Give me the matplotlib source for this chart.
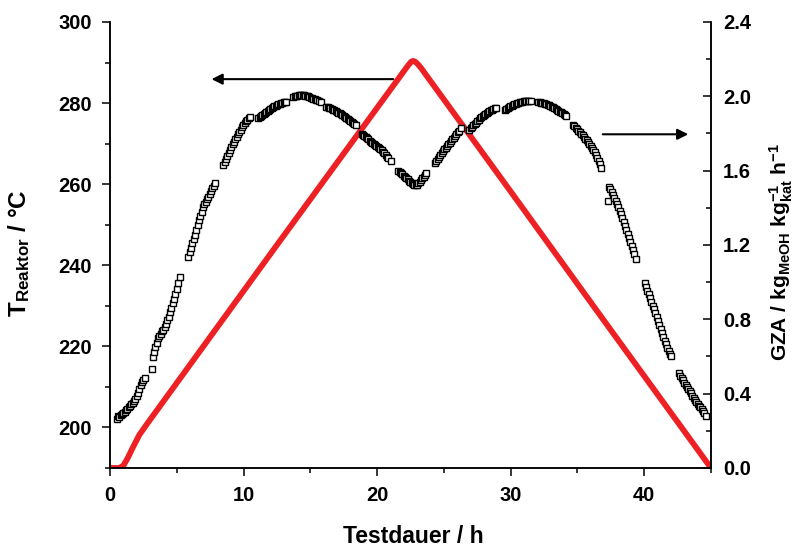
import matplotlib
matplotlib.use("Agg")
import matplotlib.pyplot as plt
from matplotlib.ticker import MultipleLocator, FormatStrFormatter

# Reactor temperature ramp (time in h, temperature in °C)
t_temp = [0.0, 0.7, 1.0, 1.3, 1.7, 2.2, 2.8, 12.5, 22.3, 22.55, 22.7, 22.85,
          23.05, 23.3, 30.0, 37.0, 45.0]
T_reaktor = [190.0, 190.0, 190.6, 192.3, 195.0, 198.2, 201.0, 245.0, 289.2,
             290.2, 290.4, 290.2, 289.6, 288.6, 258.2, 226.3, 190.0]

# Space-time yield (GZA), measured in separate runs
t_run01 = [0.52, 0.60, 0.70, 0.80, 0.90, 1.00, 1.10, 1.20, 1.30, 1.40, 1.50,
           1.60, 1.70, 1.80, 1.90, 2.00, 2.10, 2.20, 2.30, 2.40, 2.50, 2.62]
gza_run01 = [0.262, 0.280, 0.276, 0.285, 0.290, 0.298, 0.302, 0.312, 0.318,
             0.326, 0.335, 0.345, 0.352, 0.362, 0.372, 0.390, 0.405, 0.425,
             0.445, 0.462, 0.476, 0.486]

t_run02 = [3.14, 3.22, 3.30, 3.40, 3.50, 3.60, 3.70, 3.80, 3.90, 4.00, 4.10,
           4.20, 4.30, 4.40, 4.50, 4.60, 4.70, 4.80, 4.90, 5.00, 5.10, 5.21]
gza_run02 = [0.534, 0.599, 0.622, 0.650, 0.672, 0.698, 0.710, 0.722, 0.735,
             0.745, 0.760, 0.776, 0.795, 0.815, 0.838, 0.862, 0.888, 0.910,
             0.936, 0.962, 0.995, 1.026]

t_run03 = [5.86, 5.96, 6.06, 6.16, 6.26, 6.36, 6.46, 6.56, 6.66, 6.76, 6.86,
           6.96, 7.06, 7.16, 7.26, 7.36, 7.46, 7.56, 7.66, 7.76, 7.86]
gza_run03 = [1.137, 1.160, 1.184, 1.208, 1.231, 1.256, 1.283, 1.308, 1.332,
             1.355, 1.378, 1.402, 1.418, 1.432, 1.446, 1.460, 1.476, 1.490,
             1.504, 1.518, 1.532]

t_run04 = [8.48, 8.58, 8.68, 8.78, 8.88, 8.98, 9.08, 9.18, 9.28, 9.38, 9.48,
           9.58, 9.68, 9.78, 9.88, 9.98, 10.08, 10.18, 10.28, 10.38, 10.48]
gza_run04 = [1.631, 1.648, 1.664, 1.680, 1.696, 1.711, 1.726, 1.741, 1.756,
             1.770, 1.783, 1.796, 1.808, 1.820, 1.833, 1.846, 1.856, 1.865,
             1.873, 1.881, 1.888]

t_run05 = [11.10, 11.20, 11.30, 11.40, 11.50, 11.60, 11.70, 11.80, 11.90,
           12.00, 12.10, 12.20, 12.30, 12.40, 12.50, 12.60, 12.70, 12.80,
           12.90, 13.00, 13.10, 13.17]
gza_run05 = [1.882, 1.888, 1.894, 1.900, 1.906, 1.912, 1.917, 1.922, 1.927,
             1.932, 1.937, 1.942, 1.946, 1.950, 1.954, 1.957, 1.960, 1.963,
             1.966, 1.968, 1.970, 1.971]

t_run06 = [13.72, 13.82, 13.92, 14.02, 14.12, 14.22, 14.32, 14.42, 14.52,
           14.62, 14.72, 14.82, 14.92, 15.02, 15.12, 15.22, 15.32, 15.42,
           15.52, 15.62, 15.77]
gza_run06 = [1.995, 1.999, 2.002, 2.004, 2.006, 2.007, 2.007, 2.006, 2.005,
             2.003, 2.001, 1.999, 1.996, 1.993, 1.990, 1.987, 1.984, 1.981,
             1.978, 1.975, 1.971]

t_run07 = [16.2, 16.3, 16.4, 16.5, 16.6, 16.7, 16.8, 16.9, 17.0, 17.1, 17.2,
           17.3, 17.4, 17.5, 17.6, 17.7, 17.8, 17.9, 18.0, 18.1, 18.2, 18.3,
           18.4]
gza_run07 = [1.945, 1.942, 1.939, 1.935, 1.931, 1.928, 1.924, 1.920, 1.916,
             1.912, 1.908, 1.903, 1.898, 1.893, 1.888, 1.883, 1.878, 1.873,
             1.868, 1.862, 1.857, 1.851, 1.846]

t_run08 = [18.84, 18.94, 19.04, 19.14, 19.24, 19.34, 19.44, 19.54, 19.64,
           19.74, 19.84, 19.94, 20.04, 20.14, 20.24, 20.34, 20.44, 20.54,
           20.64, 20.74, 20.84, 21.01]
gza_run08 = [1.796, 1.791, 1.786, 1.780, 1.774, 1.768, 1.762, 1.756, 1.750,
             1.745, 1.739, 1.733, 1.727, 1.721, 1.715, 1.709, 1.703, 1.695,
             1.686, 1.676, 1.666, 1.652]

t_run09 = [21.58, 21.68, 21.78, 21.88, 21.98, 22.08, 22.18, 22.28, 22.38,
           22.48, 22.58, 22.68, 22.78, 22.88, 22.98, 23.08, 23.18, 23.28,
           23.38, 23.48, 23.58, 23.65]
gza_run09 = [1.598, 1.592, 1.586, 1.580, 1.573, 1.566, 1.560, 1.553, 1.546,
             1.539, 1.532, 1.527, 1.524, 1.523, 1.525, 1.531, 1.539, 1.548,
             1.558, 1.568, 1.578, 1.586]

t_run10 = [24.33, 24.43, 24.53, 24.63, 24.73, 24.83, 24.93, 25.03, 25.13,
           25.23, 25.33, 25.43, 25.53, 25.63, 25.73, 25.83, 25.93, 26.03,
           26.13, 26.25]
gza_run10 = [1.640, 1.652, 1.663, 1.674, 1.684, 1.694, 1.704, 1.714, 1.724,
             1.733, 1.742, 1.751, 1.760, 1.769, 1.778, 1.787, 1.796, 1.806,
             1.816, 1.828]

t_run11 = [26.9, 27.0, 27.1, 27.2, 27.3, 27.4, 27.5, 27.6, 27.7, 27.8, 27.9,
           28.0, 28.1, 28.2, 28.3, 28.4, 28.5, 28.6, 28.7, 28.8, 28.9]
gza_run11 = [1.819, 1.827, 1.835, 1.843, 1.851, 1.859, 1.867, 1.875, 1.882,
             1.889, 1.895, 1.901, 1.906, 1.911, 1.916, 1.921, 1.925, 1.929,
             1.933, 1.936, 1.939]

t_run12 = [29.57, 29.67, 29.77, 29.87, 29.97, 30.07, 30.17, 30.27, 30.37,
           30.47, 30.57, 30.67, 30.77, 30.87, 30.97, 31.07, 31.17, 31.27,
           31.37, 31.51]
gza_run12 = [1.927, 1.932, 1.937, 1.942, 1.946, 1.950, 1.954, 1.957, 1.960,
             1.963, 1.966, 1.968, 1.970, 1.971, 1.973, 1.974, 1.975, 1.976,
             1.976, 1.975]

t_run13 = [32.06, 32.16, 32.26, 32.36, 32.46, 32.56, 32.66, 32.76, 32.86,
           32.96, 33.06, 33.16, 33.26, 33.36, 33.46, 33.56, 33.66, 33.76,
           33.86, 33.96, 34.06, 34.18]
gza_run13 = [1.968, 1.967, 1.966, 1.964, 1.962, 1.960, 1.957, 1.954, 1.951,
             1.948, 1.945, 1.941, 1.937, 1.933, 1.928, 1.923, 1.918, 1.913,
             1.908, 1.903, 1.898, 1.893]

t_run14 = [34.68, 34.78, 34.88, 34.98, 35.08, 35.18, 35.28, 35.38, 35.48,
           35.58, 35.68, 35.78, 35.88, 35.98, 36.08, 36.18, 36.28, 36.38,
           36.48, 36.58, 36.68, 36.80]
gza_run14 = [1.846, 1.839, 1.832, 1.824, 1.816, 1.808, 1.799, 1.790, 1.781,
             1.772, 1.763, 1.754, 1.744, 1.734, 1.723, 1.712, 1.698, 1.684,
             1.669, 1.653, 1.635, 1.613]

t_run15 = [37.37, 37.30, 37.47, 37.57, 37.67, 37.77, 37.87, 37.97, 38.07,
           38.17, 38.27, 38.37, 38.47, 38.57, 38.67, 38.77, 38.87, 38.97,
           39.07, 39.17, 39.27, 39.42]
gza_run15 = [1.514, 1.439, 1.500, 1.485, 1.469, 1.452, 1.436, 1.419, 1.402,
             1.384, 1.365, 1.346, 1.326, 1.304, 1.282, 1.261, 1.239, 1.216,
             1.194, 1.172, 1.150, 1.123]

t_run16 = [40.04, 40.14, 40.24, 40.34, 40.44, 40.54, 40.64, 40.74, 40.84,
           40.94, 41.04, 41.14, 41.24, 41.34, 41.44, 41.54, 41.64, 41.74,
           41.84, 41.94, 42.04]
gza_run16 = [0.994, 0.975, 0.955, 0.935, 0.914, 0.893, 0.873, 0.853, 0.833,
             0.812, 0.792, 0.771, 0.750, 0.728, 0.706, 0.686, 0.666, 0.647,
             0.629, 0.614, 0.603]

t_run17 = [42.60, 42.70, 42.80, 42.90, 43.00, 43.10, 43.20, 43.30, 43.40,
           43.50, 43.60, 43.70, 43.80, 43.90, 44.00, 44.10, 44.20, 44.30,
           44.40, 44.50, 44.66]
gza_run17 = [0.510, 0.497, 0.484, 0.471, 0.458, 0.445, 0.434, 0.423, 0.412,
             0.401, 0.390, 0.379, 0.368, 0.357, 0.347, 0.336, 0.326, 0.316,
             0.305, 0.295, 0.280]

runs = [
    (t_run01, gza_run01), (t_run02, gza_run02), (t_run03, gza_run03),
    (t_run04, gza_run04), (t_run05, gza_run05), (t_run06, gza_run06),
    (t_run07, gza_run07), (t_run08, gza_run08), (t_run09, gza_run09),
    (t_run10, gza_run10), (t_run11, gza_run11), (t_run12, gza_run12),
    (t_run13, gza_run13), (t_run14, gza_run14), (t_run15, gza_run15),
    (t_run16, gza_run16), (t_run17, gza_run17),
]

x_ticks = [0, 10, 20, 30, 40]
T_ticks = [200, 220, 240, 260, 280, 300]
gza_ticks = [0.0, 0.4, 0.8, 1.2, 1.6, 2.0, 2.4]

plt.rcParams["font.family"] = ["Liberation Sans", "DejaVu Sans"]
plt.rcParams["font.weight"] = "bold"
plt.rcParams["mathtext.fontset"] = "custom"
plt.rcParams["mathtext.rm"] = "Liberation Sans:bold"
plt.rcParams["mathtext.it"] = "Liberation Sans:bold"
plt.rcParams["mathtext.bf"] = "Liberation Sans:bold"

fig = plt.figure(figsize=(7.95, 5.48), dpi=100)
ax = fig.add_axes([0.1384, 0.146, 0.7559, 0.8139])
ax2 = ax.twinx()

red = "#ED2024"
ax.plot(t_temp, T_reaktor, color=red, lw=4.2, solid_joinstyle="round",
        solid_capstyle="butt", zorder=2)

for t_vals, g_vals in runs:
    ax2.plot(t_vals, g_vals, linestyle="none", marker="s", markersize=4.0,
             markerfacecolor="white", markeredgecolor="black",
             markeredgewidth=1.0, clip_on=False)

ax.set_xlim(0, 45)
ax.set_ylim(190, 300)
ax2.set_ylim(0, 2.4)

ax.set_xticks(x_ticks)
ax.xaxis.set_minor_locator(MultipleLocator(5))
ax.set_yticks(T_ticks)
ax.yaxis.set_minor_locator(MultipleLocator(10))
ax2.set_yticks(gza_ticks)
ax2.yaxis.set_minor_locator(MultipleLocator(0.2))
ax2.yaxis.set_major_formatter(FormatStrFormatter("%.1f"))

for a in (ax, ax2):
    a.spines["top"].set_visible(False)
    for s in a.spines.values():
        s.set_linewidth(1.1)

ax.tick_params(axis="x", which="major", direction="out", length=6,
               width=1.1, labelsize=14.5, pad=7)
ax.tick_params(axis="y", which="major", direction="out", length=6,
               width=1.1, labelsize=14.5, pad=7)
ax.tick_params(axis="both", which="minor", direction="out", length=3.5,
               width=1.1)
ax2.tick_params(axis="y", which="major", direction="in", length=6,
                width=1.1, labelsize=14.5, pad=8.5)
ax2.tick_params(axis="y", which="minor", direction="in", length=3.5,
                width=1.1)
for lbl in ax.get_xticklabels() + ax.get_yticklabels() + ax2.get_yticklabels():
    lbl.set_fontweight("bold")

ax.set_xlabel("Testdauer / h", fontsize=16.5, fontweight="bold")
ax.xaxis.set_label_coords(0.504, -0.128)
ax.set_ylabel(r"T$_{\mathrm{Reaktor}}$ / °C", fontsize=17.5, fontweight="bold")
ax.yaxis.set_label_coords(-0.13, 0.482)
ax2.set_ylabel(r"GZA / kg$_{\mathrm{MeOH}}$ kg$_{\mathrm{kat}}^{-1}$ h$^{-1}$",
               fontsize=15, fontweight="bold")
ax2.yaxis.set_label_coords(1.095, 0.485)

# Direction arrows: left one points to the temperature axis, right one to GZA
ax.annotate("", xy=(7.6, 285.9), xytext=(21.2, 285.9),
            arrowprops=dict(arrowstyle="-|>", lw=1.5, color="black",
                            mutation_scale=16, shrinkA=0, shrinkB=0))
ax.annotate("", xy=(43.3, 272.3), xytext=(36.9, 272.3),
            arrowprops=dict(arrowstyle="-|>", lw=1.5, color="black",
                            mutation_scale=16, shrinkA=0, shrinkB=0))

fig.savefig("out.png", dpi=100)
